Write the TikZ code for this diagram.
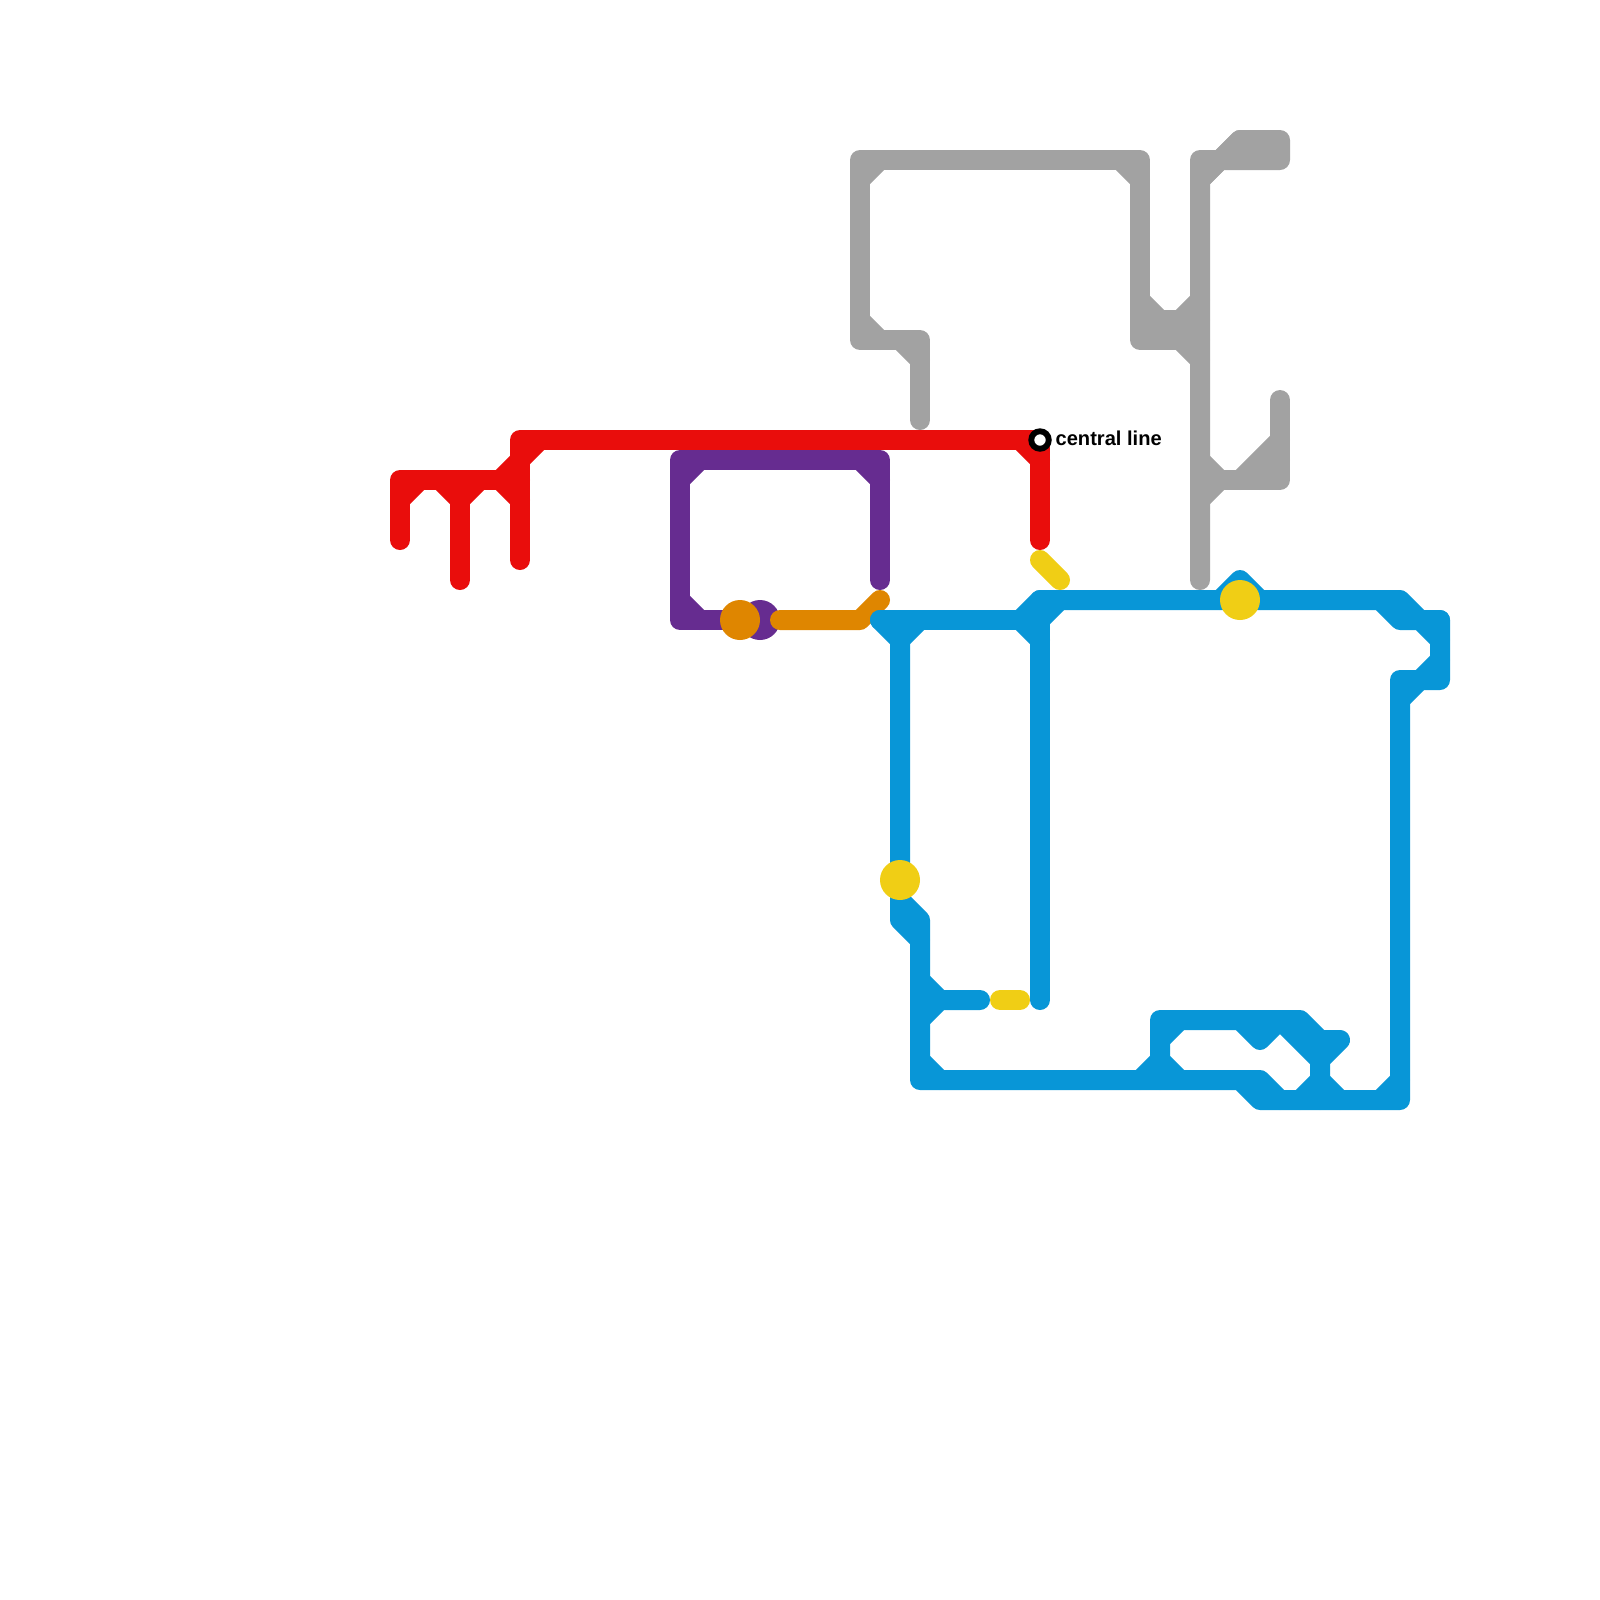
\documentclass[tikz,border=0pt]{standalone}
\usepackage{fontspec}
\setmainfont{Liberation Sans}
\usetikzlibrary{positioning}
\definecolor{linered}{HTML}{E90D0C}
\definecolor{linepurple}{HTML}{662C90}
\definecolor{lineorange}{HTML}{DF8600}
\definecolor{lineblue}{HTML}{0896D7}
\definecolor{lineyellow}{HTML}{F0CE15}
\definecolor{linegrey}{HTML}{A2A2A2}
\tikzset{
  metroline/.style={line width=0.5cm, line cap=round, line join=round},
  redline/.style={metroline, draw=linered},
  purpleline/.style={metroline, draw=linepurple},
  orangeline/.style={metroline, draw=lineorange},
  blueline/.style={metroline, draw=lineblue},
  yellowline/.style={metroline, draw=lineyellow},
  greyline/.style={metroline, draw=linegrey},
  stopdot/.style={circle, minimum size=1cm, inner sep=0pt, outer sep=0pt},
  stopring/.style={circle, draw=black, line width=0.147cm, fill=white, minimum size=0.4375cm, inner sep=0pt, outer sep=0pt},
  linelabel/.style={font=\bfseries\fontsize{14.3pt}{16pt}\selectfont, inner sep=0pt}
}
\begin{document}
\begin{tikzpicture}[x=0.5cm, y=-0.5cm]
      \useasboundingbox (0,0) rectangle (80,80);
      \draw[greyline] (46,21) -- (46,17) -- (43,17) -- (43,8) -- (57,8) -- (57,17) -- (60,17);
      \draw[greyline] (57,16) -- (60,16);
      \draw[greyline] (43,9) -- (44,8) (43,16) -- (44,17) (45,17) -- (46,18) (56,8) -- (57,9);
      \draw[greyline] (57,15) -- (58,16) (59,16) -- (60,15) (59,17) -- (60,18);
      \draw[greyline] (60,29) -- (60,8) -- (64,8) -- (64,7) -- (62,7) -- (60,9);
      \draw[greyline] (60,9) -- (61,8) (61,8) -- (62,7);
      \draw[greyline] (60,24) -- (64,24) -- (64,20);
      \draw[greyline] (60,23) -- (61,24) -- (60,25) (62,24) -- (64,22) (63,24) -- (64,23);
      \draw[redline] (52,27) -- (52,22) -- (26,22) -- (26,28);
      \draw[redline] (20,27) -- (20,24) -- (26,24);
      \draw[redline] (23,29) -- (23,24);
      \draw[redline] (26,23) -- (27,22) (51,22) -- (52,23) (25,24) -- (26,23) (25,24) -- (26,25);
      \draw[redline] (22,24) -- (23,25) -- (24,24) (20,25) -- (21,24);
      \draw[purpleline] (38,31) -- (34,31) -- (34,23) -- (44,23) -- (44,29);
      \draw[purpleline] (34,24) -- (35,23) (43,23) -- (44,24) (34,30) -- (35,31);
      \node[stopdot, fill=linepurple] (lefttwo) at (38,31) {};
      \draw[orangeline] (39,31) -- (43,31) -- (44,30);
      \node[stopdot, fill=lineorange] (leftone) at (37,31) {};
      \draw[blueline] (44,31) -- (52,31) -- (52,50);
      \draw[blueline] (52,30) -- (52,31) (52,30) -- (70,30) -- (71,31) -- (72,31) -- (72,34) -- (70,34) -- (70,55) -- (63,55) -- (62,54) -- (46,54) -- (46,46) -- (45,45) -- (45,31);
      \draw[blueline] (44,31) -- (45,32) -- (46,31) (51,31) -- (52,32) (51,31) -- (52,30) (52,31) -- (53,30);
      \draw[blueline] (69,30) -- (70,31) -- (72,31) (71,31) -- (72,32) (71,34) -- (72,33) (70,35) -- (71,34) (69,55) -- (70,54);
      \draw[blueline] (61,30) -- (62,29) -- (63,30);
      \draw[blueline] (45,46) -- (45,45) (45,46) -- (46,47) (46,50) -- (49,50) (46,49) -- (47,50) -- (46,51) (46,53) -- (47,54);
      \draw[blueline] (57,54) -- (58,53) -- (59,54) (58,54) -- (58,51) -- (65,51) -- (66,52) -- (67,52) -- (66,53) -- (66,55);
      \draw[blueline] (58,52) -- (59,51) (62,51) -- (63,52) -- (64,51) -- (66,53);
      \draw[blueline] (62,54) -- (63,54) -- (64,55) (65,55) -- (66,54) -- (67,55);
      \draw[yellowline] (50,50) -- (51,50);
      \draw[yellowline] (52,28) -- (53,29);
      \node[stopdot, fill=lineyellow] (westdot) at (45,44) {};
      \node[stopdot, fill=lineyellow] (eastdot) at (62,30) {};
      \node[stopring] (central) at (52,22) {};
      \node[linelabel, right=0.165cm of central, yshift=0.05cm] (centrallabel) {central line};
    \end{tikzpicture}
\end{document}
